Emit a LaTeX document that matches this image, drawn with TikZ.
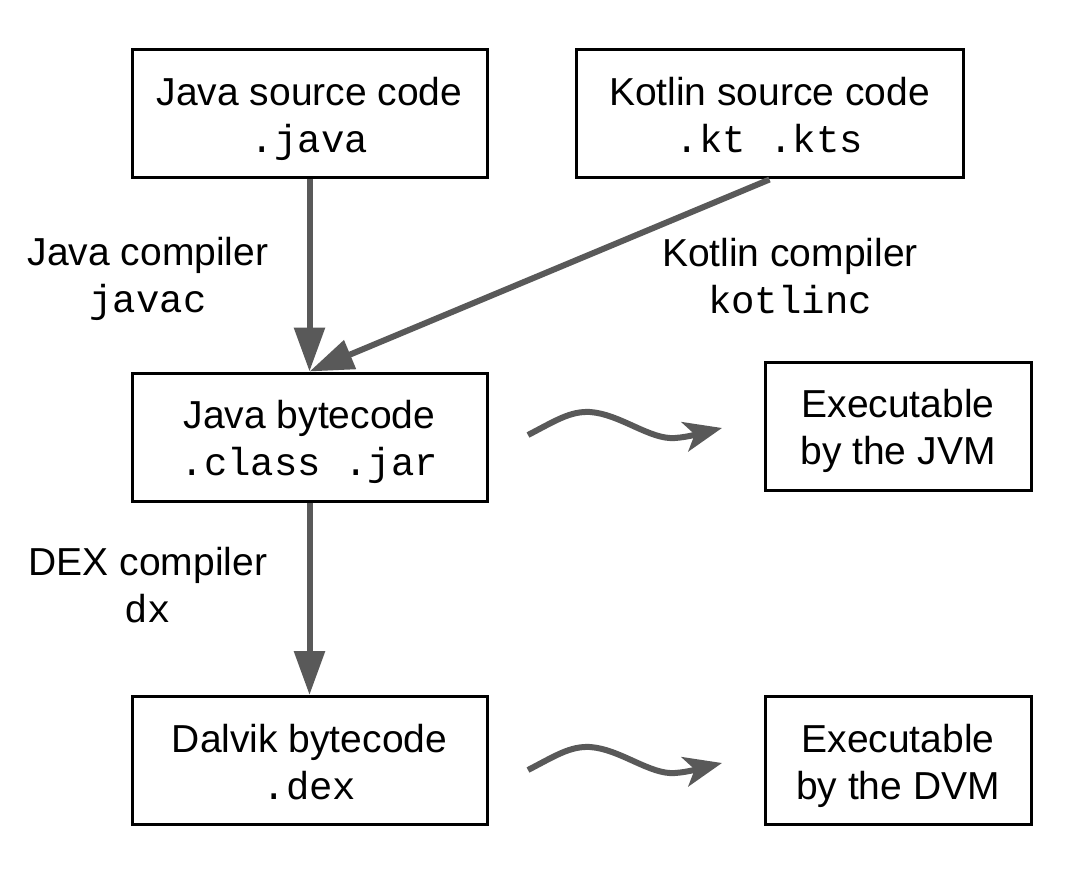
\documentclass[tikz,border=0pt]{standalone}
\usepackage{fontspec}
\setmainfont{Liberation Sans}
\setmonofont{Liberation Mono}
\usetikzlibrary{arrows.meta}
\definecolor{arrowgray}{HTML}{595959}

\begin{document}
\begin{tikzpicture}[x=0.5pt,y=-0.5pt,
    every node/.style={font=\fontsize{19.5}{23.5}\selectfont,align=center},
    box/.style={draw,line width=1.5pt,minimum width=177.5pt,minimum height=64pt,inner sep=2pt,
      text height=42.5pt,text depth=4pt},
    flow/.style={draw=arrowgray,line width=3pt,-{Triangle[length=22pt,width=15pt]}},
    wave/.style={draw=arrowgray,line width=3pt,-{Stealth[length=19pt,width=15pt,inset=5pt]}}]
  \useasboundingbox (0,0) rectangle (1081,877);
  % boxes
  \node[box] (javasrc) at (309.5,114) {Java source code\\\texttt{.java}};
  \node[box,minimum width=193.5pt] (kotlinsrc) at (769.5,114) {Kotlin source code\\\texttt{.kt .kts}};
  \node[box] (javabc) at (309.5,437) {Java bytecode\\\texttt{.class .jar}};
  \node[box] (dalvikbc) at (309.5,760.5) {Dalvik bytecode\\\texttt{.dex}};
  \node[box,minimum width=133pt] (jvm) at (898,426) {Executable\\by the JVM};
  \node[box,minimum width=133pt] (dvm) at (898,760.5) {Executable\\by the DVM};
  % compiler labels
  \node (javac) at (148,279) {Java compiler\\\texttt{javac}};
  \node (kotlinc) at (790,276) {Kotlin compiler\\\texttt{kotlinc}};
  \node (dx) at (148,585) {DEX compiler\\\texttt{dx}};
  % compile steps
  \draw[flow] (javasrc.south) -- (javabc.north);
  \draw[flow] (kotlinsrc.south) -- (javabc.north);
  \draw[flow] (javabc.south) -- (dalvikbc.north);
  % executable by
  \coordinate (jvmfrom) at (528,435);
  \coordinate (jvmto) at (722,428);
  \coordinate (dvmfrom) at (528,770);
  \coordinate (dvmto) at (722,763);
  \draw[wave] (jvmfrom) .. controls (555,421) and (570,411) .. (590,412)
    .. controls (620,414) and (650,440) .. (675,438)
    .. controls (690,437) and (705,432) .. (jvmto);
  \draw[wave] (dvmfrom) .. controls (555,756) and (570,746) .. (590,747)
    .. controls (620,749) and (650,775) .. (675,773)
    .. controls (690,772) and (705,767) .. (dvmto);
\end{tikzpicture}
\end{document}
